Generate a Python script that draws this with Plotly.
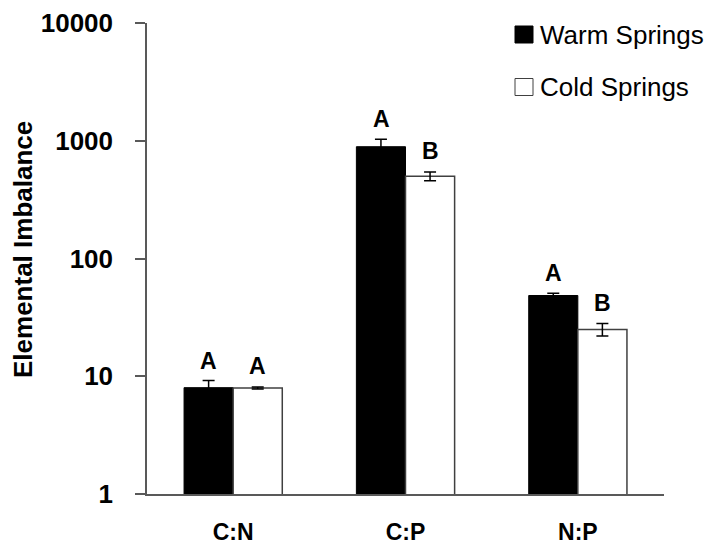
import plotly.graph_objects as go
import math

categories = ["C:N", "C:P", "N:P"]
warm_values = [8.0, 890, 48.5]
warm_err = [1.2, 140, 2.2]
cold_values = [7.95, 500, 25.0]
cold_err = [0.15, 42, 3.0]
warm_letters = ["A", "A", "A"]
cold_letters = ["A", "B", "B"]
tick_vals = [1, 10, 100, 1000, 10000]
tick_text = ["1", "10", "100", "1000", "10000"]
series_names = ["Warm Springs", "Cold Springs"]

W, H = 705, 546
L, R, T, B = 147, 41, 23, 52
pw, ph = W - L - R, H - T - B

def px_x(p):
    return (p - L) / pw

def px_y(p):
    return (H - B - p) / ph

FONT = "Liberation Sans, Arial, sans-serif"
AXC = "#595959"

fig = go.Figure()
fig.add_trace(go.Bar(
    x=categories, y=warm_values, name=series_names[0], showlegend=False,
    marker=dict(color="black", line=dict(color="black", width=1)),
    error_y=dict(type="data", array=warm_err, color="black", thickness=1.5, width=6),
))
fig.add_trace(go.Bar(
    x=categories, y=cold_values, name=series_names[1], showlegend=False,
    marker=dict(color="white", line=dict(color="#404040", width=1.5)),
    error_y=dict(type="data", array=cold_err, color="black", thickness=1.5, width=6),
))

annotations = []
for i, c in enumerate(categories):
    annotations.append(dict(
        x=c, y=math.log10(warm_values[i] + warm_err[i]), xref="x", yref="y",
        text=warm_letters[i], showarrow=False, xshift=-24.5, yshift=20,
        font=dict(family=FONT, size=23, color="black", weight="bold"),
        yanchor="middle", xanchor="center"))
    annotations.append(dict(
        x=c, y=math.log10(cold_values[i] + cold_err[i]), xref="x", yref="y",
        text=cold_letters[i], showarrow=False, xshift=24.5, yshift=21,
        font=dict(family=FONT, size=23, color="black", weight="bold"),
        yanchor="middle", xanchor="center"))

# y-axis title
annotations.append(dict(
    x=px_x(23), y=px_y(250), xref="paper", yref="paper", text="Elemental Imbalance",
    textangle=-90, showarrow=False, xanchor="center", yanchor="middle",
    font=dict(family=FONT, size=26, color="black", weight="bold")))

# legend
legend_rows = [(34.5, "black", "black"), (87, "white", "#404040")]
shapes = []
for (cy, fill, line), name in zip(legend_rows, series_names):
    shapes.append(dict(type="rect", xref="paper", yref="paper",
                       x0=px_x(515), x1=px_x(533), y0=px_y(cy + 8.5), y1=px_y(cy - 8.5),
                       fillcolor=fill, line=dict(color=line, width=1)))
    annotations.append(dict(x=px_x(538), y=px_y(cy), xref="paper", yref="paper",
                            text=name, showarrow=False, xanchor="left", yanchor="middle",
                            font=dict(family=FONT, size=26, color="black")))

fig.update_layout(
    width=W, height=H, margin=dict(l=L, r=R, t=T, b=B, autoexpand=False),
    paper_bgcolor="white", plot_bgcolor="white",
    barmode="group", bargap=0.43, bargroupgap=0,
    showlegend=False, annotations=annotations, shapes=shapes,
    xaxis=dict(showline=True, linecolor=AXC, linewidth=1.5, ticks="",
               tickfont=dict(family=FONT, size=23, color="black", weight="bold"),
               ticklabelstandoff=17, showgrid=False, zeroline=False),
    yaxis=dict(type="log", range=[0, 4], tickvals=tick_vals, ticktext=tick_text,
               showline=True, linecolor=AXC, linewidth=1.5, ticks="outside",
               ticklen=10, tickwidth=1.5, tickcolor=AXC,
               tickfont=dict(family=FONT, size=26, color="black", weight="bold"),
               ticklabelstandoff=17, showgrid=False, zeroline=False),
)

fig.write_html("out.html")
